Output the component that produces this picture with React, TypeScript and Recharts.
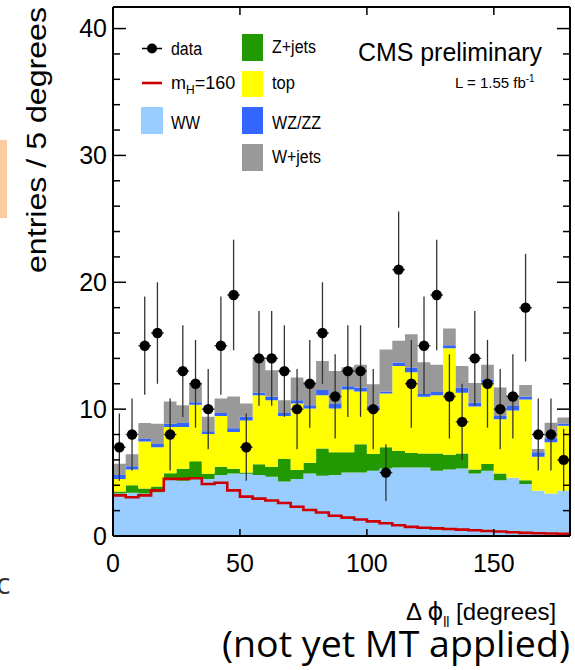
import React from 'react';
import { ComposedChart, Area, Line, Scatter, ErrorBar, XAxis, YAxis } from 'recharts';

// 36 bins of 5 degrees, 0..180
const binEdges = Array.from({ length: 37 }, (_, i) => i * 5);
const binCenters = Array.from({ length: 36 }, (_, i) => i * 5 + 2.5);

// per-process contributions (stacked: WW, Z+jets, top, WZ/ZZ, W+jets)
const ww = [3.35, 3.4, 3.35, 3.45, 4.45, 4.35, 4.5, 4.5, 4.8, 4.93, 4.9, 4.8, 4.67, 4.3, 4.5, 4.93, 4.75, 4.8,
  5.0, 5.0, 5.14, 5.33, 5.4, 5.4, 5.4, 5.14, 5.25, 5.33, 4.93, 5.14, 4.4, 4.6, 4.1, 3.57, 3.36, 3.57];
const zjets = [0.15, 0.6, 0.4, 0.45, 0.5, 0.95, 1.4, 0.4, 0.66, 0.37, 0.1, 0.85, 0.79, 1.76, 0.7, 0.84, 2.15, 1.8,
  1.6, 2.24, 1.32, 1.67, 1.3, 1.16, 1.1, 1.36, 1.15, 1.17, 0.32, 0.53, 0.53, 0, 0.3, 0, 0, 0];
const topq = [1.0, 1.25, 3.7, 3.1, 3.65, 3.3, 4.45, 3.15, 3.99, 2.9, 4.1, 5.45, 5.24, 3.39, 5.25, 4.28, 4.2, 3.45,
  4.95, 4.16, 3.44, 4.23, 6.7, 6.34, 4.47, 4.6, 8.4, 4.8, 4.95, 6.43, 4.27, 5.3, 6.36, 2.68, 4.04, 5.13];
const wzzz = [0.3, 0.25, 0.2, 0.25, 0.25, 0.3, 0.2, 0.2, 0.25, 0.3, 0.3, 0.2, 0.27, 0.25, 0.25, 0.25, 0.4, 0.35,
  0.25, 0.3, 0.36, 0.17, 0.27, 0.38, 0.23, 0.26, 0.24, 0.4, 0.3, 0.24, 0.25, 0.34, 0.21, 0.35, 0.3, 0.17];
const wjets = [0.9, 0.95, 1.25, 1.6, 1.75, 1.4, 1.52, 1.15, 1.14, 2.5, 1.05, 2.8, 2.1, 1.0, 1.8, 1.85, 2.3, 2.6,
  1.5, 1.8, 1.71, 3.3, 1.73, 2.62, 2.5, 2.14, 1.31, 1.7, 1.57, 1.16, 2.25, 0.86, 0.93, 0.25, 1.22, 0.47];
const higgs160 = [3.2, 3.05, 3.2, 3.6, 4.5, 4.5, 4.55, 4.1, 4.2, 3.6, 3.1, 2.95, 2.8, 2.6, 2.3, 2.05, 1.85, 1.6,
  1.45, 1.3, 1.15, 1.0, 0.85, 0.72, 0.65, 0.6, 0.55, 0.5, 0.45, 0.4, 0.35, 0.3, 0.25, 0.22, 0.2, 0.18];
const dataCounts = [7, 8, 15, 16, 8, 13, 12, 10, 15, 19, 7, 14, 14, 13, 10, 12, 16, 11, 13, 13, 10, 5, 21, 12,
  15, 19, 11, 9, 14, 12, 10, 11, 18, 8, 8, 6];
const dataErr = [2.65, 2.83, 3.87, 4.0, 2.83, 3.61, 3.46, 3.16, 3.87, 4.36, 2.65, 3.74, 3.74, 3.61, 3.16, 3.46,
  4.0, 3.32, 3.61, 3.61, 3.16, 2.24, 4.58, 3.46, 3.87, 4.36, 3.32, 3.0, 3.74, 3.46, 3.16, 3.32, 4.24, 2.83, 2.83, 2.45];
const binHalfWidth = 2.5;

const xTicks = [0, 50, 100, 150];
const xAllTicks = [0, 10, 20, 30, 40, 50, 60, 70, 80, 90, 100, 110, 120, 130, 140, 150, 160, 170];
const xTopTicks = [10, 20, 30, 40, 50, 60, 70, 80, 90, 100, 110, 120, 130, 140, 150, 160, 170];
const yTicks = [0, 10, 20, 30, 40];
const yAllTicks = [0, 2, 4, 6, 8, 10, 12, 14, 16, 18, 20, 22, 24, 26, 28, 30, 32, 34, 36, 38, 40];

const histRows = binEdges.map((x, i) => {
  const k = Math.min(i, 35);
  return { x, ww: ww[k], zjets: zjets[k], top: topq[k], wzzz: wzzz[k], wjets: wjets[k], higgs: higgs160[k] };
});
const points = dataCounts.map((n, i) => ({ x: binCenters[i], y: n, err: dataErr[i], xerr: binHalfWidth }));

const C_WW = '#99ccff';
const C_Z = '#229900';
const C_TOP = '#ffff00';
const C_WZ = '#3366ff';
const C_WJ = '#999999';
const C_H = '#cc0000';

const FONT = '"Liberation Sans", Arial, Helvetica, sans-serif';

// inward tick marks drawn by mirrored axes (major longer than minor)
const makeTick = (side: 'left' | 'right' | 'top' | 'bottom', majorEvery: number, major: number, minor: number) =>
  (props: any) => {
    const { x, y, payload } = props;
    const v = payload ? payload.value : 0;
    const len = majorEvery > 0 && Math.abs(v % majorEvery) < 1e-9 ? major : minor;
    let x2 = x, y2 = y;
    if (side === 'left') x2 = x + len;
    if (side === 'right') x2 = x - len;
    if (side === 'bottom') y2 = y - len;
    if (side === 'top') y2 = y + len;
    return <line x1={x} y1={y} x2={x2} y2={y2} stroke="#000" strokeWidth={1.5} />;
  };

const Dot = (props: any) => {
  const { cx, cy } = props;
  if (cx == null || cy == null) return null;
  return <circle cx={cx} cy={cy} r={5.2} fill="#000" />;
};

export default function App() {
  return (
    <div style={{ position: 'absolute', left: 0, top: 0, width: 575, height: 670, background: '#fff', overflow: 'hidden' }}>
      <div style={{ position: 'absolute', left: 0, top: 0 }}>
        <ComposedChart width={575} height={670} data={histRows} margin={{ top: 7, right: 5, bottom: 94, left: 0 }}>
          <Area type="stepAfter" dataKey="ww" stackId="bg" fill={C_WW} fillOpacity={1} stroke="none" isAnimationActive={false} />
          <Area type="stepAfter" dataKey="zjets" stackId="bg" fill={C_Z} fillOpacity={1} stroke="none" isAnimationActive={false} />
          <Area type="stepAfter" dataKey="top" stackId="bg" fill={C_TOP} fillOpacity={1} stroke="none" isAnimationActive={false} />
          <Area type="stepAfter" dataKey="wzzz" stackId="bg" fill={C_WZ} fillOpacity={1} stroke="none" isAnimationActive={false} />
          <Area type="stepAfter" dataKey="wjets" stackId="bg" fill={C_WJ} fillOpacity={1} stroke="none" isAnimationActive={false} />
          <Line type="stepAfter" dataKey="higgs" stroke={C_H} strokeWidth={2.6} dot={false} isAnimationActive={false} />
          <Scatter data={points} dataKey="y" shape={Dot} isAnimationActive={false}>
            <ErrorBar dataKey="err" direction="y" width={0} stroke="#333" strokeWidth={1.3} />
            <ErrorBar dataKey="xerr" direction="x" width={0} stroke="#333" strokeWidth={1.3} />
          </Scatter>

          <XAxis dataKey="x" type="number" domain={[0, 180]} allowDataOverflow ticks={xTicks} interval={0}
            height={40} tickSize={0} tickMargin={18} axisLine={{ stroke: '#000', strokeWidth: 2 }} tickLine={false}
            tick={{ fontFamily: FONT, fontSize: 25, fill: '#000' }} />
          <XAxis xAxisId="bIn" type="number" domain={[0, 180]} allowDataOverflow ticks={xAllTicks} interval={0}
            orientation="bottom" mirror height={1} tickSize={0} tickMargin={0} axisLine={false} tickLine={false}
            tick={makeTick('bottom', 50, 15, 7)} />
          <XAxis xAxisId="tIn" type="number" domain={[0, 180]} allowDataOverflow ticks={xTopTicks} interval={0}
            orientation="top" mirror height={1} tickSize={0} tickMargin={0} axisLine={{ stroke: '#000', strokeWidth: 2 }} tickLine={false}
            tick={makeTick('top', 0, 8, 8)} />

          <YAxis type="number" domain={[0, 41.7]} allowDataOverflow ticks={yTicks} interval={0} width={113}
            tickSize={0} tickMargin={6} axisLine={{ stroke: '#000', strokeWidth: 2 }} tickLine={false}
            tick={{ fontFamily: FONT, fontSize: 25, fill: '#000' }} />
          <YAxis yAxisId="lIn" type="number" domain={[0, 41.7]} allowDataOverflow ticks={yAllTicks} interval={0}
            orientation="left" mirror width={1} tickSize={0} tickMargin={0} axisLine={false} tickLine={false}
            tick={makeTick('left', 10, 13, 7)} />
          <YAxis yAxisId="rIn" type="number" domain={[0, 41.7]} allowDataOverflow ticks={yAllTicks} interval={0}
            orientation="right" mirror width={1} tickSize={0} tickMargin={0} axisLine={{ stroke: '#000', strokeWidth: 2 }} tickLine={false}
            tick={makeTick('right', 10, 13, 7)} />
        </ComposedChart>
      </div>
      <svg width={575} height={670} style={{ position: 'absolute', left: 0, top: 0, pointerEvents: 'none' }}>
        {/* side decorations */}
        <rect x={0} y={140} width={7} height={78} fill="#fccca0" />
        <text x={-4} y={594} fontFamily='"Open Sans", sans-serif' fontSize={30} fill="#333">c</text>

        {/* y label */}
        <text x={46} y={140} transform="rotate(-90 46 140)" textAnchor="middle" fontFamily={FONT} fontSize={27}
          textLength={266} lengthAdjust="spacingAndGlyphs" fill="#000">entries / 5 degrees</text>

        {/* legend column 1 */}
        <line x1={142} y1={48.5} x2={162} y2={48.5} stroke="#000" strokeWidth={1.5} />
        <circle cx={152} cy={48.5} r={5} fill="#000" />
        <text x={171} y={55} fontFamily={FONT} fontSize={18} textLength={31} lengthAdjust="spacingAndGlyphs">data</text>
        <line x1={142} y1={83} x2={162} y2={83} stroke={C_H} strokeWidth={2.6} />
        <text x={171} y={89} fontFamily={FONT} fontSize={18}>m<tspan fontSize={12} dy={5}>H</tspan><tspan dy={-5}>=160</tspan></text>
        <rect x={141} y={107} width={22} height={27} fill={C_WW} />
        <text x={171} y={129} fontFamily={FONT} fontSize={18} textLength={29} lengthAdjust="spacingAndGlyphs">WW</text>

        {/* legend column 2 */}
        <rect x={242} y={34} width={21} height={27} fill={C_Z} />
        <text x={272} y={53} fontFamily={FONT} fontSize={18} textLength={44} lengthAdjust="spacingAndGlyphs">Z+jets</text>
        <rect x={242} y={71} width={21} height={26} fill={C_TOP} />
        <text x={272} y={89} fontFamily={FONT} fontSize={18} textLength={23} lengthAdjust="spacingAndGlyphs">top</text>
        <rect x={242} y={107} width={21} height={27} fill={C_WZ} />
        <text x={272} y={129} fontFamily={FONT} fontSize={18} textLength={49} lengthAdjust="spacingAndGlyphs">WZ/ZZ</text>
        <rect x={242} y={144} width={21} height={27} fill={C_WJ} />
        <text x={272} y={163} fontFamily={FONT} fontSize={18} textLength={49} lengthAdjust="spacingAndGlyphs">W+jets</text>

        {/* CMS text */}
        <text x={358} y={61} fontFamily={FONT} fontSize={25} textLength={184} lengthAdjust="spacingAndGlyphs">CMS preliminary</text>
        <text x={455} y={88} fontFamily={FONT} fontSize={15}>L = 1.55 fb<tspan fontSize={10} dy={-6}>-1</tspan></text>

        {/* x label */}
        <text x={406} y={620} fontFamily={FONT} fontSize={24}>Δ <tspan fontFamily='"DejaVu Sans", sans-serif'>ϕ</tspan><tspan fontSize={14} dy={7}>ll</tspan><tspan dy={-7}> [degrees]</tspan></text>
        <text x={222} y={657} fontFamily='"Open Sans", sans-serif' fontSize={36} textLength={348} lengthAdjust="spacingAndGlyphs" fill="#000">(not yet MT applied)</text>
      </svg>
    </div>
  );
}
